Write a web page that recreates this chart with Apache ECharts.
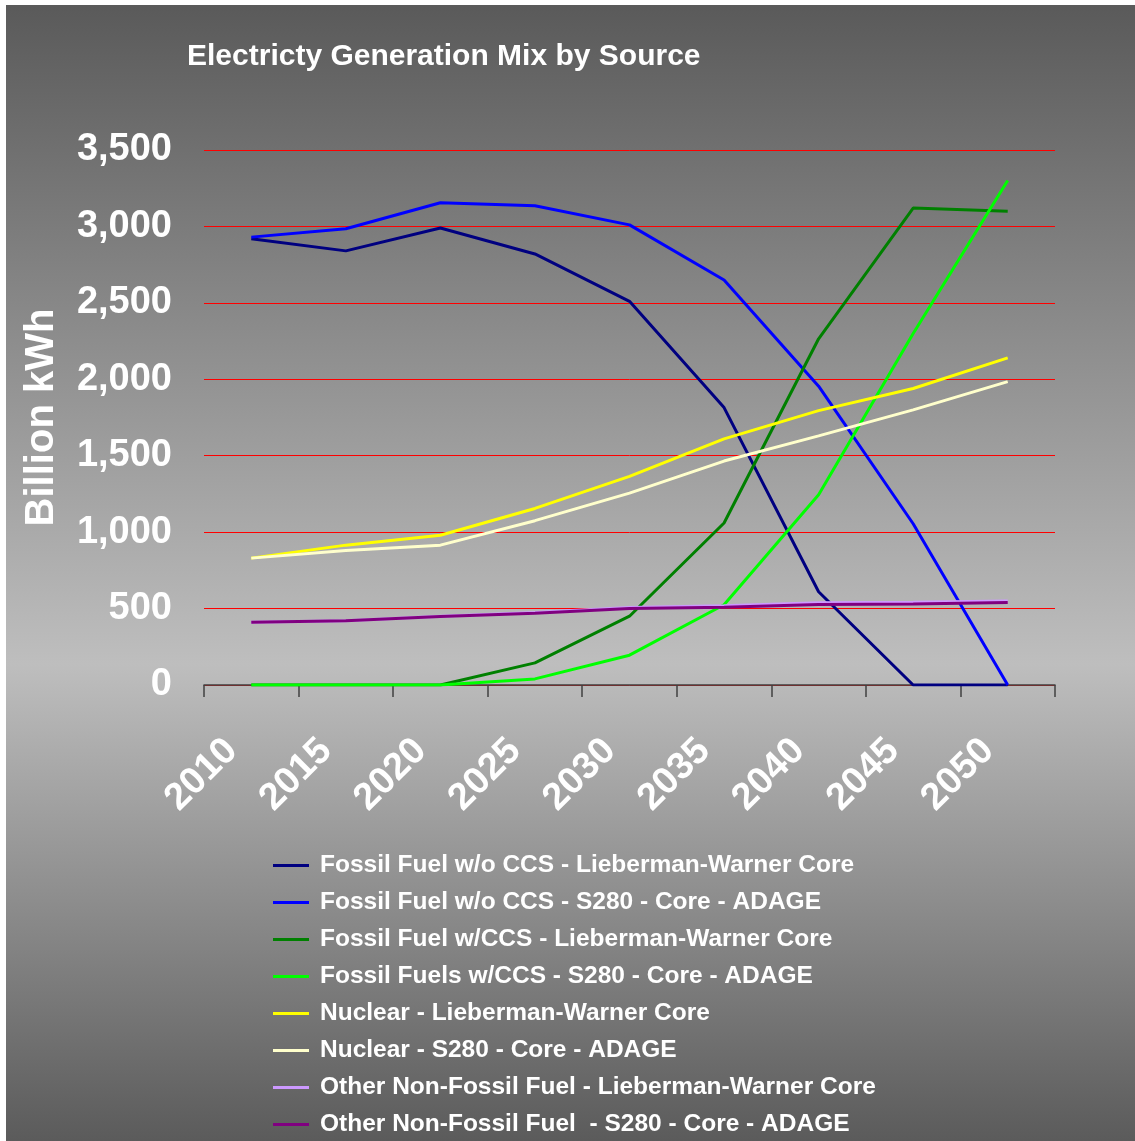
<!DOCTYPE html>
<html>
<head>
<meta charset="utf-8">
<script src="https://cdn.jsdelivr.net/npm/echarts@6/dist/echarts.min.js"></script>
<style>
html,body{margin:0;padding:0;background:#ffffff;}
#bg{position:absolute;left:6px;top:5px;width:1129px;height:1136px;
 background:linear-gradient(to bottom,#5a5a5a 0%,#bebebe 58%,#5b5b5b 100%);}
#chart{position:absolute;left:0;top:0;width:1135px;height:1141px;}
</style>
</head>
<body>
<div id="bg"></div>
<div id="chart"></div>
<script>
const years = ['2010','2015','2020','2025','2030','2035','2040','2045','2050'];
const seriesNames = [
  'Fossil Fuel w/o CCS - Lieberman-Warner Core',
  'Fossil Fuel w/o CCS - S280 - Core - ADAGE',
  'Fossil Fuel w/CCS - Lieberman-Warner Core',
  'Fossil Fuels w/CCS - S280 - Core - ADAGE',
  'Nuclear - Lieberman-Warner Core',
  'Nuclear - S280 - Core - ADAGE',
  'Other Non-Fossil Fuel - Lieberman-Warner Core',
  'Other Non-Fossil Fuel  - S280 - Core - ADAGE'
];
const fossilNoCcsLW = [2920, 2840, 2990, 2820, 2510, 1815, 610, 0, 0];
const fossilNoCcsS280 = [2930, 2985, 3155, 3135, 3010, 2650, 1955, 1055, 0];
const fossilCcsLW = [0, 0, 0, 145, 450, 1060, 2265, 3120, 3100];
const fossilCcsS280 = [0, 0, 0, 40, 195, 525, 1245, 2300, 3300];
const nuclearLW = [830, 915, 980, 1155, 1365, 1610, 1795, 1940, 2140];
const nuclearS280 = [830, 880, 915, 1075, 1255, 1465, 1630, 1800, 1985];
const otherLW = [410, 420, 450, 475, 507, 518, 538, 542, 550];
const otherS280 = [410, 420, 448, 470, 500, 508, 527, 530, 540];
const colors = ['#000080','#0000ff','#008000','#00ff00','#ffff00','#ffffcc','#cc99ff','#800080'];
const allData = [fossilNoCcsLW, fossilNoCcsS280, fossilCcsLW, fossilCcsS280, nuclearLW, nuclearS280, otherLW, otherS280];

const FONT = '"Liberation Sans", Arial, sans-serif';
const chart = echarts.init(document.getElementById('chart'), null, {renderer:'canvas'});
chart.setOption({
  backgroundColor: 'transparent',
  animation: false,
  title: {
    text: 'Electricty Generation Mix by Source',
    left: 187, top: 42, padding: 0,
    textStyle: {color:'#ffffff', fontFamily: FONT, fontWeight:'bold', fontSize: 30}
  },
  grid: {left: 204, right: 80, top: 150, bottom: 456, containLabel: false},
  legend: {
    orient: 'vertical',
    left: 273, top: 853, padding: 0,
    itemWidth: 36, itemHeight: 14, itemGap: 12,
    icon: 'path://M0,0 L36,0 L36,3 L0,3 Z',
    textStyle: {color:'#ffffff', fontFamily: FONT, fontWeight:'bold', fontSize: 24.5, lineHeight: 24, padding: [0, 0, 0, 6]},
    data: seriesNames
  },
  xAxis: {
    type: 'category',
    data: years,
    boundaryGap: true,
    axisLine: {lineStyle: {color:'#404040', width: 1.5}},
    axisTick: {show: true, length: 12, lineStyle:{color:'#404040', width:1.5}},
    axisLabel: {
      rotate: 45, margin: 40, interval: 0, padding: [0, 28, 0, 0],
      color:'#ffffff', fontFamily: FONT, fontWeight:'bold', fontSize: 38
    },
    splitLine: {show: false}
  },
  yAxis: {
    type: 'value',
    min: 0, max: 3500, interval: 500,
    name: 'Billion kWh',
    nameLocation: 'middle',
    nameGap: 142,
    nameRotate: 90,
    nameTextStyle: {color:'#ffffff', fontFamily: FONT, fontWeight:'bold', fontSize: 40},
    axisLine: {show: false},
    axisTick: {show: false},
    axisLabel: {
      margin: 32,
      color:'#ffffff', fontFamily: FONT, fontWeight:'bold', fontSize: 38,
      formatter: v => v.toLocaleString('en-US')
    },
    splitLine: {show: true, lineStyle: {color:'#ff0000', width: 1}}
  },
  series: seriesNames.map((n, i) => ({
    name: n,
    type: 'line',
    data: allData[i],
    symbol: 'none',
    color: colors[i],
    lineStyle: {width: 3, color: colors[i]},
    z: 2 + i
  }))
});
</script>
</body>
</html>
